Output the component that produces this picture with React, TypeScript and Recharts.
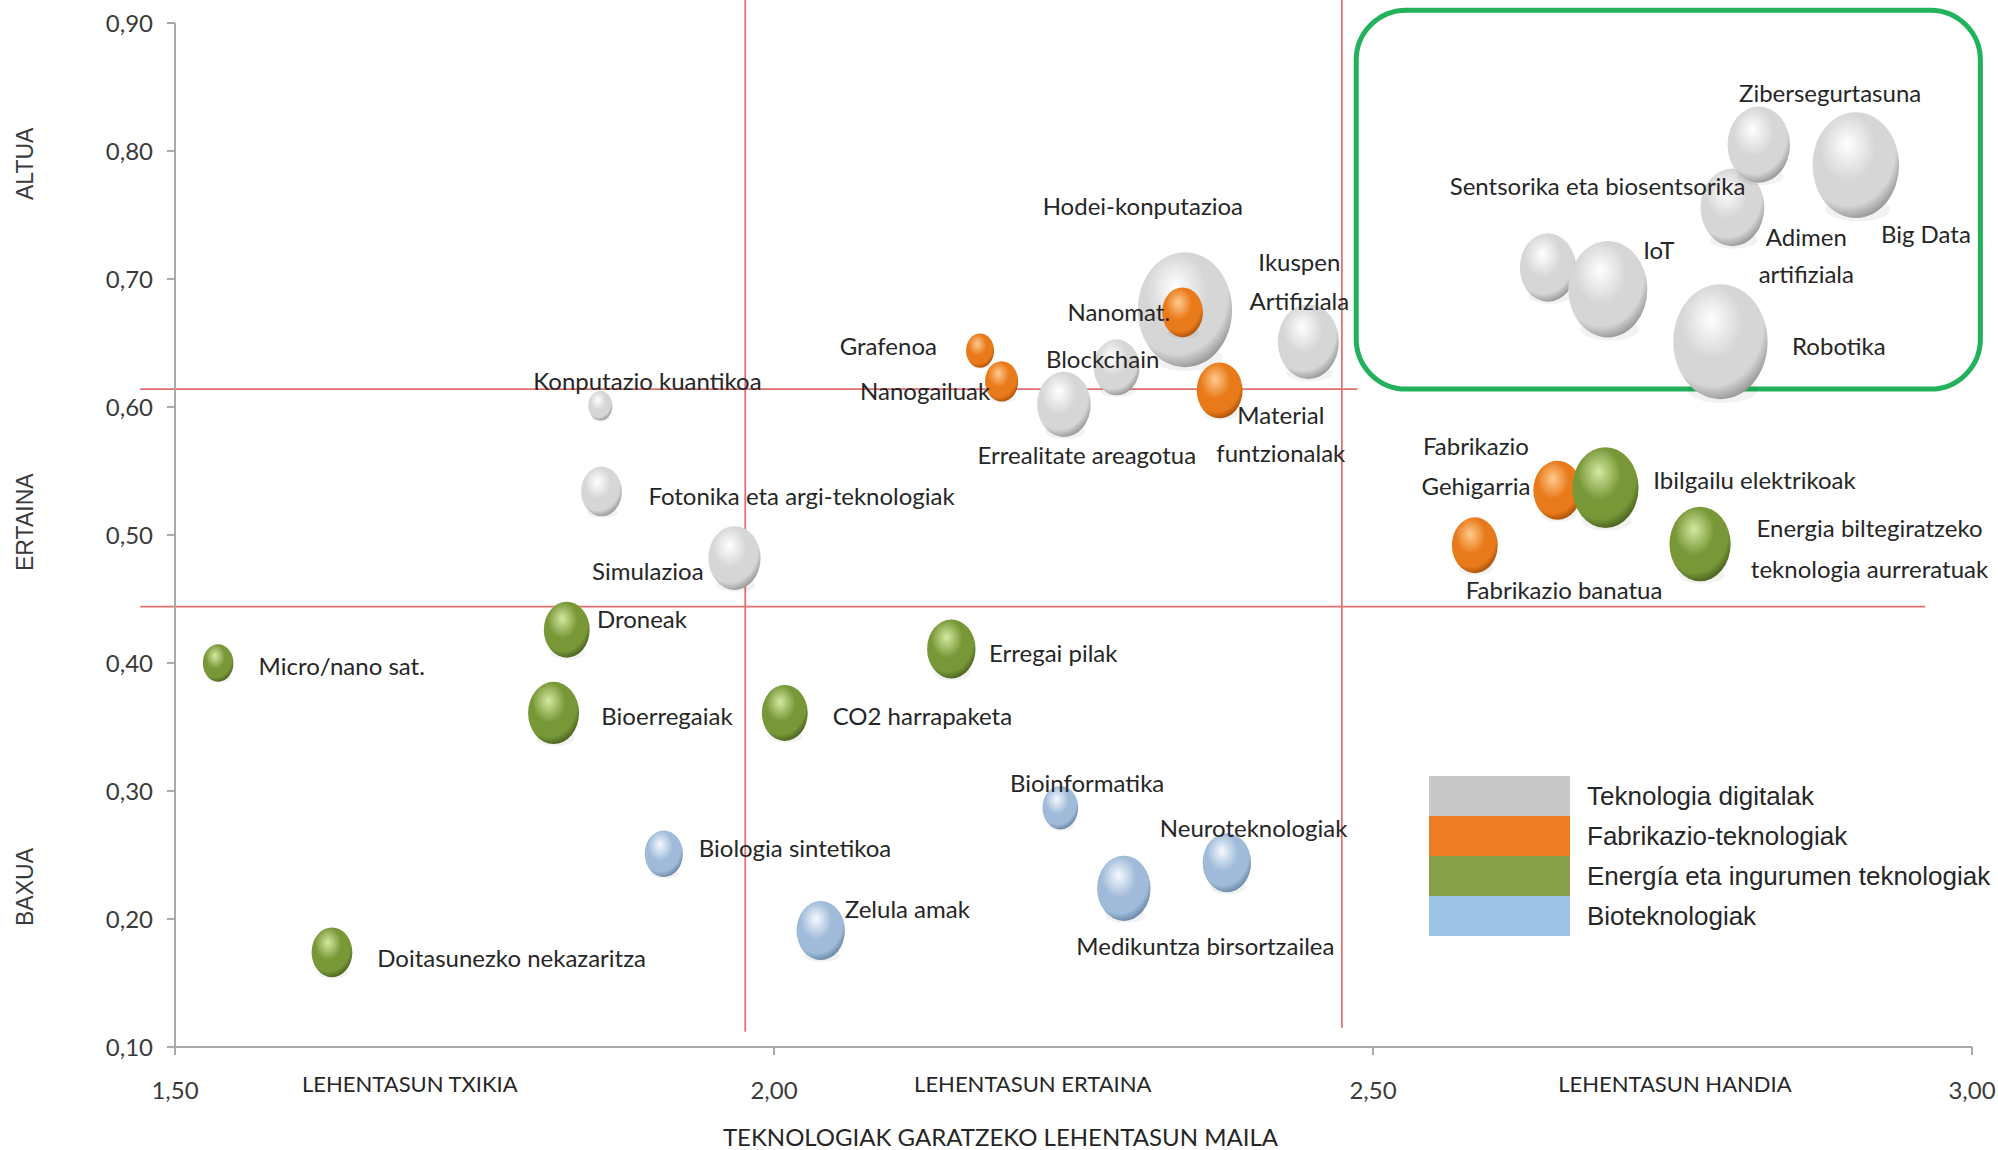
import React from 'react';
import {
  ScatterChart,
  Scatter,
  XAxis,
  YAxis,
  ZAxis,
  ReferenceLine,
  ReferenceArea,
  ReferenceDot,
  Legend
} from 'recharts';

// picture px per reading unit (values were read on a 1568 px wide copy)
const K = 1998 / 1568;

const xTicks = [1.5, 2.0, 2.5, 3.0];
const yTicks = [0.1, 0.2, 0.3, 0.4, 0.5, 0.6, 0.7, 0.8, 0.9];

const categories = [
  'Teknologia digitalak',
  'Fabrikazio-teknologiak',
  'Energía eta ingurumen teknologiak',
  'Bioteknologiak'
];

// Teknologia digitalak
const digitalNames = [
  'Konputazio kuantikoa', 'Fotonika eta argi-teknologiak', 'Simulazioa',
  'Errealitate areagotua', 'Blockchain', 'Hodei-konputazioa', 'Ikuspen Artifiziala',
  'Sentsorika eta biosentsorika', 'IoT', 'Adimen artifiziala', 'Zibersegurtasuna',
  'Big Data', 'Robotika'
];
const digitalX = [1.855, 1.856, 1.967, 2.242, 2.286, 2.343, 2.446, 2.646, 2.696, 2.800, 2.822, 2.903, 2.790];
const digitalY = [0.601, 0.534, 0.482, 0.602, 0.631, 0.676, 0.651, 0.709, 0.692, 0.756, 0.805, 0.789, 0.651];
const digitalZ = [90, 256, 420, 441, 324, 1369, 576, 484, 961, 625, 600, 1156, 1369];

// Fabrikazio-teknologiak
const fabNames = ['Grafenoa', 'Nanogailuak', 'Nanomat.', 'Material funtzionalak', 'Fabrikazio Gehigarria', 'Fabrikazio banatua'];
const fabX = [2.172, 2.190, 2.341, 2.372, 2.654, 2.585];
const fabY = [0.644, 0.620, 0.674, 0.613, 0.535, 0.492];
const fabZ = [121, 169, 256, 324, 361, 324];

// Energía eta ingurumen teknologiak
const energyNames = [
  'Micro/nano sat.', 'Doitasunezko nekazaritza', 'Droneak', 'Bioerregaiak',
  'CO2 harrapaketa', 'Erregai pilak', 'Ibilgailu elektrikoak',
  'Energia biltegiratzeko teknologia aurreratuak'
];
const energyX = [1.536, 1.631, 1.827, 1.816, 2.009, 2.148, 2.694, 2.773];
const energyY = [0.400, 0.174, 0.426, 0.361, 0.361, 0.411, 0.537, 0.493];
const energyZ = [144, 256, 324, 400, 324, 361, 676, 576];

// Bioteknologiak
const bioNames = ['Biologia sintetikoa', 'Zelula amak', 'Bioinformatika', 'Medikuntza birsortzailea', 'Neuroteknologiak'];
const bioX = [1.908, 2.039, 2.239, 2.292, 2.378];
const bioY = [0.251, 0.191, 0.287, 0.224, 0.244];
const bioZ = [225, 361, 196, 441, 361];

// quadrant limits
const lowLimit = 0.444;
const highLimit = 0.614;
const leftLimit = 1.976;
const rightLimit = 2.474;

const levelLabels = ['ALTUA', 'ERTAINA', 'BAXUA'];
const levelY = [0.79, 0.51, 0.225];
const priorityLabels = ['LEHENTASUN TXIKIA', 'LEHENTASUN ERTAINA', 'LEHENTASUN HANDIA'];
const priorityX = [1.696, 2.216, 2.752];

const build = (names: string[], xs: number[], ys: number[], zs: number[]) =>
  names.map((name, i) => ({ name, x: xs[i], y: ys[i], z: zs[i] }));

const digitalData = build(digitalNames, digitalX, digitalY, digitalZ);
const fabData = build(fabNames, fabX, fabY, fabZ);
const energyData = build(energyNames, energyX, energyY, energyZ);
const bioData = build(bioNames, bioX, bioY, bioZ);
const allData = [...digitalData, ...fabData, ...energyData, ...bioData];

// label offsets from bubble centre, one pair per text line
const labelPlacement: Record<string, number[][]> = {
  'Konputazio kuantikoa': [[37, -20]],
  'Fotonika eta argi-teknologiak': [[157, 3]],
  'Simulazioa': [[-68, 10]],
  'Errealitate areagotua': [[18, 39]],
  'Blockchain': [[-11, -7]],
  'Hodei-konputazioa': [[-33, -82]],
  'Ikuspen Artifiziala': [[-7, -63], [-7, -32]],
  'Sentsorika eta biosentsorika': [[39, -64]],
  'IoT': [[40, -31]],
  'Adimen artifiziala': [[58, 23], [58, 52]],
  'Zibersegurtasuna': [[56, -41]],
  'Big Data': [[55, 54]],
  'Robotika': [[93, 3]],
  'Grafenoa': [[-72, -4]],
  'Nanogailuak': [[-60, 7]],
  'Nanomat.': [[-50, -1]],
  'Material funtzionalak': [[48, 19], [48, 49]],
  'Fabrikazio Gehigarria': [[-64, -35], [-64, -4]],
  'Fabrikazio banatua': [[70, 35]],
  'Micro/nano sat.': [[97, 2]],
  'Doitasunezko nekazaritza': [[141, 4]],
  'Droneak': [[59, -9]],
  'Bioerregaiak': [[89, 2]],
  'CO2 harrapaketa': [[108, 2]],
  'Erregai pilak': [[80, 3]],
  'Ibilgailu elektrikoak': [[117, -6]],
  'Energia biltegiratzeko teknologia aurreratuak': [[133, -13], [133, 19]],
  'Biologia sintetikoa': [[103, -5]],
  'Zelula amak': [[68, -17]],
  'Bioinformatika': [[21, -20]],
  'Medikuntza birsortzailea': [[64, 45]],
  'Neuroteknologiak': [[21, -28]]
};

const palettes = [
  { id: 'gDigital', legend: '#c8c8c8', hi: '#ffffff', mid: '#d6d6d6', lo: '#7a7a7a' },
  { id: 'gFab', legend: '#ed7d22', hi: '#ffcb8e', mid: '#e97a1a', lo: '#8a3f02' },
  { id: 'gEnergy', legend: '#87a14a', hi: '#d4e9a0', mid: '#789838', lo: '#344a12' },
  { id: 'gBio', legend: '#9dc3e6', hi: '#f6f9ff', mid: '#9fbbd9', lo: '#506e90' }
];

const FONT = 'Lato, "Open Sans", sans-serif';
const AXIS_GRAY = '#a9a9a9';
const RED = '#e07070';

const fmt = (v: number) => v.toFixed(2).replace('.', ',');

const bubble = (gradId: string) => (props: any) => {
  const { cx, cy, size } = props;
  if (cx == null || cy == null) return null;
  const r = Math.sqrt(Math.max(size || 0, 0) / Math.PI);
  return (
    <g>
      <ellipse cx={cx + r * 0.05} cy={cy + r * 1.02} rx={r * 0.75} ry={r * 0.28} fill="#000" opacity={0.05} />
      <ellipse cx={cx} cy={cy} rx={r} ry={r * 1.22} fill={`url(#${gradId})`} />
    </g>
  );
};

const labelShape = (props: any) => {
  const { cx, cy, payload } = props;
  if (cx == null || !payload) return null;
  const place = labelPlacement[payload.name] || [[0, 0]];
  const words = payload.name.split(' ');
  const half = Math.ceil(words.length / 2);
  const lines = place.length === 1 ? [payload.name] : [words.slice(0, half).join(' '), words.slice(half).join(' ')];
  return (
    <g>
      {lines.map((t: string, i: number) => (
        <text
          key={i}
          x={cx + place[i][0] * K}
          y={cy + place[i][1] * K}
          textAnchor="middle"
          dominantBaseline="central"
          fontFamily={FONT}
          fontSize={24}
          fill="#262626"
        >
          {t}
        </text>
      ))}
    </g>
  );
};

const greenBox = (props: any) => {
  const { x, y, width, height } = props;
  return <rect x={x} y={y} width={width} height={height} rx={50} ry={50} fill="none" stroke="#22b25c" strokeWidth={5} />;
};

const LegendBox = () => (
  <div>
    {categories.map((c, i) => (
      <div key={c} style={{ display: 'flex', alignItems: 'center', height: 40 }}>
        <div style={{ width: 141, height: 40, flexShrink: 0, background: palettes[i].legend }} />
        <span
          style={{
            marginLeft: 17,
            fontFamily: '"Liberation Sans", Arial, sans-serif',
            fontSize: 26,
            color: '#262626',
            whiteSpace: 'nowrap'
          }}
        >
          {c}
        </span>
      </div>
    ))}
  </div>
);

export default function App() {
  const series = [digitalData, fabData, energyData, bioData];
  return (
    <div style={{ position: 'absolute', left: 0, top: 0, width: 1998, height: 1150, background: '#fff' }}>
      <ScatterChart width={1998} height={1150} margin={{ top: 23, right: 26, bottom: 0, left: 0 }}>
        <defs>
          {palettes.map((p) => (
            <radialGradient key={p.id} id={p.id} cx="0.42" cy="0.36" r="0.72" fx="0.4" fy="0.3">
              <stop offset="0" stopColor={p.hi} />
              <stop offset="0.45" stopColor={p.mid} />
              <stop offset="0.75" stopColor={p.mid} />
              <stop offset="1" stopColor={p.lo} />
            </radialGradient>
          ))}
        </defs>
        <XAxis
          type="number"
          dataKey="x"
          domain={[1.5, 3]}
          ticks={xTicks}
          tickFormatter={fmt}
          height={103}
          axisLine={{ stroke: AXIS_GRAY, strokeWidth: 2 }}
          tickLine={{ stroke: AXIS_GRAY, strokeWidth: 2 }}
          tickSize={8}
          tickMargin={27}
          tick={{ fontFamily: FONT, fontSize: 24, fill: '#3a3a3a' }}
        />
        <YAxis
          type="number"
          dataKey="y"
          domain={[0.1, 0.9]}
          ticks={yTicks}
          tickFormatter={fmt}
          width={175}
          axisLine={{ stroke: AXIS_GRAY, strokeWidth: 2 }}
          tickLine={{ stroke: AXIS_GRAY, strokeWidth: 2 }}
          tickSize={8}
          tickMargin={14}
          tick={{ fontFamily: FONT, fontSize: 24, fill: '#3a3a3a' }}
        />
        <ZAxis type="number" dataKey="z" domain={[0, 1600]} range={[0, Math.PI * Math.pow(40 * K, 2)]} />

        <ReferenceLine segment={[{ x: 1.471, y: highLimit }, { x: 2.487, y: highLimit }]} stroke={RED} strokeWidth={1.8} ifOverflow="visible" />
        <ReferenceLine segment={[{ x: 1.471, y: lowLimit }, { x: 2.961, y: lowLimit }]} stroke={RED} strokeWidth={1.8} ifOverflow="visible" />
        <ReferenceLine segment={[{ x: leftLimit, y: 0.918 }, { x: leftLimit, y: 0.112 }]} stroke={RED} strokeWidth={1.8} ifOverflow="visible" />
        <ReferenceLine segment={[{ x: rightLimit, y: 0.918 }, { x: rightLimit, y: 0.115 }]} stroke={RED} strokeWidth={1.8} ifOverflow="visible" />

        {series.map((d, i) => (
          <Scatter
            key={categories[i]}
            name={categories[i]}
            data={d}
            fill={palettes[i].legend}
            shape={bubble(palettes[i].id)}
            isAnimationActive={false}
          />
        ))}

        <ReferenceArea x1={2.486} x2={3.007} y1={0.614} y2={0.91} ifOverflow="visible" shape={greenBox} />

        <Scatter name="labels" data={allData} shape={labelShape} legendType="none" isAnimationActive={false} />

        {levelLabels.map((t, i) => (
          <ReferenceDot
            key={t}
            x={1.5}
            y={levelY[i]}
            r={0}
            fill="none"
            stroke="none"
            ifOverflow="visible"
            label={(p: any) => {
              const vb = p.viewBox || {};
              const lx = (vb.x || 0) - 150;
              const ly = vb.y || 0;
              return (
                <text
                  x={lx}
                  y={ly}
                  transform={`rotate(-90 ${lx} ${ly})`}
                  textAnchor="middle"
                  dominantBaseline="central"
                  fontFamily='"Liberation Sans", Arial, sans-serif'
                  fontSize={23}
                  fill="#3a3a3a"
                >
                  {t}
                </text>
              );
            }}
          />
        ))}

        {priorityLabels.map((t, i) => (
          <ReferenceDot
            key={t}
            x={priorityX[i]}
            y={0.1}
            r={0}
            fill="none"
            stroke="none"
            ifOverflow="visible"
            label={(p: any) => {
              const vb = p.viewBox || {};
              return (
                <text x={vb.x || 0} y={(vb.y || 0) + 36} textAnchor="middle" dominantBaseline="central" fontFamily={FONT} fontSize={22} fill="#262626">
                  {t}
                </text>
              );
            }}
          />
        ))}

        <ReferenceDot
          x={2.189}
          y={0.1}
          r={0}
          fill="none"
          stroke="none"
          ifOverflow="visible"
          label={(p: any) => {
            const vb = p.viewBox || {};
            return (
              <text x={vb.x || 0} y={(vb.y || 0) + 89} textAnchor="middle" dominantBaseline="central" fontFamily={FONT} fontSize={24} fill="#262626">
                TEKNOLOGIAK GARATZEKO LEHENTASUN MAILA
              </text>
            );
          }}
        />

        <Legend
          layout="vertical"
          align="center"
          verticalAlign="middle"
          content={() => <LegendBox />}
          wrapperStyle={{ position: 'absolute', left: 1429, top: 776, width: 600, height: 160 }}
        />
      </ScatterChart>
    </div>
  );
}
